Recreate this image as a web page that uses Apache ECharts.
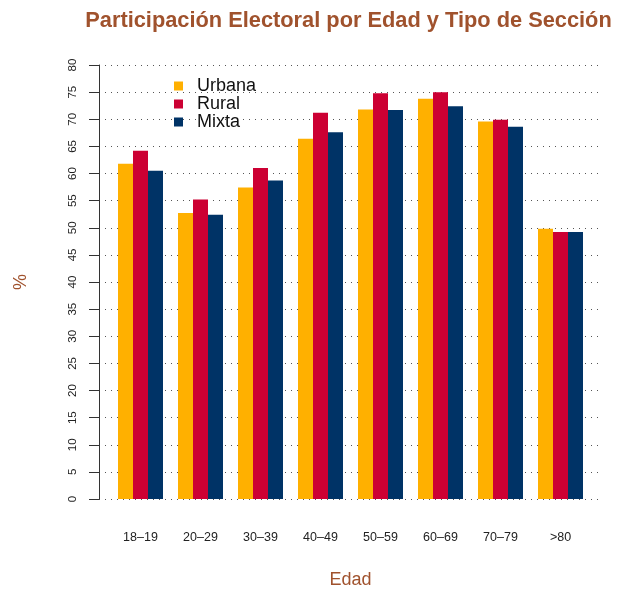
<!DOCTYPE html>
<html>
<head>
<meta charset="utf-8">
<script src="https://cdn.jsdelivr.net/npm/echarts@6/dist/echarts.min.js"></script>
<style>html,body{margin:0;padding:0;background:#fff}#c{width:619px;height:590px}</style>
</head>
<body>
<div id="c"></div>
<script>
const categories = ['18–19', '20–29', '30–39', '40–49', '50–59', '60–69', '70–79', '>80'];
const urbana = [61.8, 52.7, 57.4, 66.4, 71.8, 73.8, 69.6, 49.8];
const rural = [64.2, 55.2, 61.0, 71.2, 74.8, 75.0, 69.9, 49.2];
const mixta = [60.5, 52.4, 58.7, 67.6, 71.7, 72.4, 68.6, 49.2];
const yTicks = [0, 80, 5];

const FONT = "'Liberation Sans', Arial, Helvetica, sans-serif";
const SIENNA = '#A0522D';
const chart = echarts.init(document.getElementById('c'), null, {renderer: 'canvas'});
chart.setOption({
  animation: false,
  backgroundColor: '#fff',
  textStyle: {fontFamily: FONT},
  title: {
    text: 'Participación Electoral por Edad y Tipo de Sección',
    left: 343.5, top: 5, textAlign: 'center',
    textStyle: {fontFamily: FONT, fontWeight: 'bold', fontSize: 21.8, color: SIENNA}
  },
  legend: {
    orient: 'vertical', left: 169, top: 72,
    itemWidth: 9, itemHeight: 9, itemGap: 0, icon: 'rect',
    textStyle: {fontFamily: FONT, fontSize: 18, color: '#111', lineHeight: 18, padding: [0, 0, 0, 9]},
    data: ['Urbana', 'Rural', 'Mixta']
  },
  grid: [
    {left: 99, right: 18, top: 65, bottom: 91, containLabel: false, outerBoundsMode: 'none'},
    {left: 110.5, width: 480, top: 65, bottom: 91, containLabel: false, outerBoundsMode: 'none'}
  ],
  xAxis: [
    {gridIndex: 0, type: 'category', data: categories, show: false},
    {gridIndex: 1, type: 'category', data: categories,
     axisLine: {show: false}, axisTick: {show: false},
     axisLabel: {fontFamily: FONT, fontSize: 12.5, color: '#222', margin: 32},
     name: 'Edad', nameLocation: 'middle', nameGap: 72,
     nameTextStyle: {fontFamily: FONT, fontSize: 18, color: SIENNA}}
  ],
  yAxis: [
    {gridIndex: 0, type: 'value', min: yTicks[0], max: yTicks[1], interval: yTicks[2],
     axisLine: {show: true, lineStyle: {color: '#333', width: 1}},
     axisTick: {show: true, length: 10, lineStyle: {color: '#333'}},
     axisLabel: {fontFamily: FONT, fontSize: 11.5, color: '#222', rotate: 90, margin: 20},
     splitLine: {show: true, lineStyle: {type: [1, 5], color: '#555', width: 1}},
     name: '%', nameLocation: 'middle', nameGap: 69, nameRotate: 90,
     nameTextStyle: {fontFamily: FONT, fontSize: 18, color: SIENNA}},
    {gridIndex: 1, type: 'value', min: yTicks[0], max: yTicks[1], interval: yTicks[2], show: false}
  ],
  series: [
    {name: 'Urbana', type: 'bar', xAxisIndex: 1, yAxisIndex: 1, data: urbana,
     barWidth: 15, barGap: '0%', itemStyle: {color: '#FFB000'}},
    {name: 'Rural', type: 'bar', xAxisIndex: 1, yAxisIndex: 1, data: rural,
     barWidth: 15, barGap: '0%', itemStyle: {color: '#CC0033'}},
    {name: 'Mixta', type: 'bar', xAxisIndex: 1, yAxisIndex: 1, data: mixta,
     barWidth: 15, barGap: '0%', itemStyle: {color: '#003366'}}
  ]
});
</script>
</body>
</html>
